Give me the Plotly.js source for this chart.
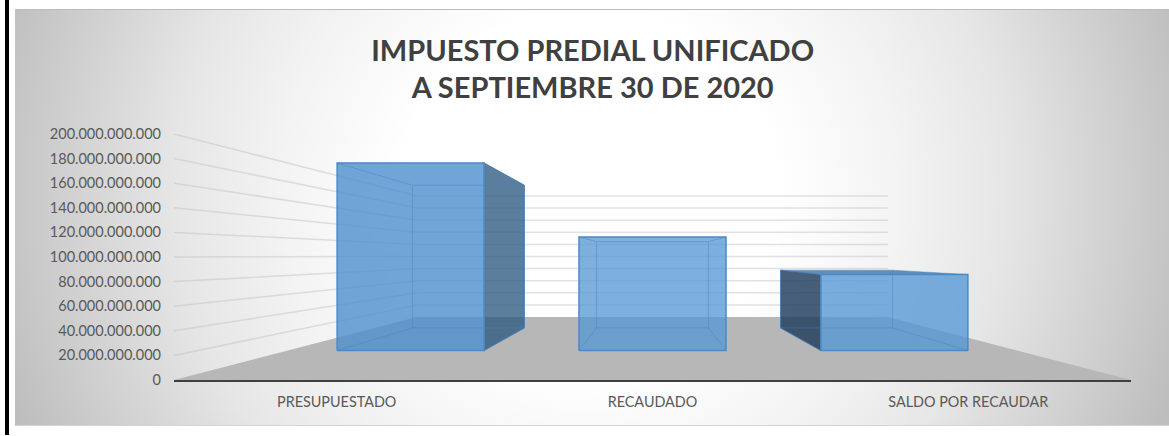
<!DOCTYPE html>
<html><head><meta charset="utf-8">
<script src="https://cdn.plot.ly/plotly-3.0.1.min.js"></script>
<style>
html,body{margin:0;padding:0;background:#fff;width:1169px;height:436px;overflow:hidden}
#frame{position:absolute;left:5px;top:0;width:4px;height:435px;background:#000}
#panel{position:absolute;left:15px;top:9px;width:1154px;height:417px;box-sizing:border-box;border-top:1px solid #bcbcbc;border-bottom:1px solid #d4d4d4;
background:radial-gradient(ellipse 620px 600px at 575px 181px,#fff 0%,#fff 30%,#f3f3f3 50%,#e6e6e6 67%,#d0d0d0 85%,#bdbdbd 100%)}
#chart{position:absolute;left:0;top:0;width:1169px;height:436px}
</style></head><body>
<div id="frame"></div><div id="panel"></div><div id="chart"></div>
<script>
var categories=["PRESUPUESTADO","RECAUDADO","SALDO POR RECAUDAR"];
var values=[200e9,121e9,81e9];
var tickValues=[0,20e9,40e9,60e9,80e9,100e9,120e9,140e9,160e9,180e9,200e9];
var tickLabels=["0","20.000.000.000","40.000.000.000","60.000.000.000","80.000.000.000","100.000.000.000","120.000.000.000","140.000.000.000","160.000.000.000","180.000.000.000","200.000.000.000"];

// Perspective of the 3-D plot box, expressed in axis units.
var vanishX=1, vanishY=100.8e9, sFront=0.762, sBack=0.58, sWall=0.492;
var halfBar=0.3024, barSpread=0.995, labelSpread=0.99, xMin=-0.5, xMax=2.5;
function px(x,s){return vanishX+(x-vanishX)*s;}
function py(v,s){return vanishY+(v-vanishY)*s;}
function poly(pts,fill,line,lw){
  return {type:"scatter",mode:line?"lines":"none",x:pts.map(function(p){return px(p[0],p[2]);}),
    y:pts.map(function(p){return py(p[1],p[2]);}),
    fill:fill?"toself":"none",fillcolor:fill||undefined,
    line:{color:line||"rgba(0,0,0,0)",width:lw||1},hoverinfo:"skip",showlegend:false};
}
var traces=[];
// walls' gridlines
tickValues.slice(1).forEach(function(v){
  traces.push(poly([[xMin,v,1],[xMin,v,sWall],[xMax,v,sWall]],null,"rgba(190,190,190,0.45)",1.5));
});
// floor
traces.push(poly([[xMin,0,1],[xMax,0,1],[xMax,0,sWall],[xMin,0,sWall],[xMin,0,1]],"#b7b7b7"));

var frontFill=["rgba(78,142,206,0.80)","rgba(85,151,213,0.76)","rgba(85,151,213,0.78)"];
var edge="#4a8ac6", inner="rgba(70,130,190,0.45)";
categories.forEach(function(c,i){
  var mid=vanishX+(i-vanishX)*barSpread;
  var l=mid-halfBar,r=mid+halfBar,v=values[i];
  // dark side faces, visible outside the front face
  if(i===0) traces.push(poly([[r,0,sFront],[r,0,sBack],[r,v,sBack],[r,v,sFront],[r,0,sFront]],"rgba(45,90,130,0.78)","rgba(70,120,165,0.8)",1));
  if(i===2) traces.push(poly([[l,0,sFront],[l,0,sBack],[l,v,sBack],[l,v,sFront],[l,0,sFront]],"rgba(30,60,90,0.82)","rgba(60,100,140,0.8)",1));
  if(v<vanishY) traces.push(poly([[l,v,sFront],[r,v,sFront],[r,v,sBack],[l,v,sBack],[l,v,sFront]],"rgba(70,125,175,0.85)"));
  // front face
  traces.push(poly([[l,0,sFront],[r,0,sFront],[r,v,sFront],[l,v,sFront],[l,0,sFront]],frontFill[i],edge,1.5));
  // back edges seen through the glass
  traces.push(poly([[l,v,sBack],[r,v,sBack],[r,0,sBack],[l,0,sBack],[l,v,sBack]],null,inner,1));
  [[l,v],[r,v],[r,0],[l,0]].forEach(function(k){
    traces.push(poly([[k[0],k[1],sFront],[k[0],k[1],sBack]],null,inner,1));
  });
});
var labelPositions=categories.map(function(c,i){return vanishX+(i-vanishX)*labelSpread;});
var layout={
  width:1169,height:436,
  paper_bgcolor:"rgba(0,0,0,0)",plot_bgcolor:"rgba(0,0,0,0)",
  margin:{l:174,r:38,t:134,b:56,pad:0},
  showlegend:false,
  title:{text:"IMPUESTO PREDIAL UNIFICADO<br>A SEPTIEMBRE 30 DE 2020",font:{family:"Lato",size:29,color:"#404040",weight:700},x:0.507,xanchor:"center",y:0.861,yanchor:"middle"},
  xaxis:{range:[xMin,xMax],tickvals:labelPositions,ticktext:categories,showgrid:false,zeroline:false,showline:true,linecolor:"#404040",linewidth:2,ticks:"",
    tickfont:{family:"Lato",size:14.4,color:"#595959"},ticklabelstandoff:8,fixedrange:true},
  yaxis:{range:[0,200e9],tickvals:tickValues,ticktext:tickLabels,showgrid:false,zeroline:false,showline:false,ticks:"",
    tickfont:{family:"Lato",size:14.5,color:"#595959"},ticklabelstandoff:12,fixedrange:true}
};
Plotly.newPlot("chart",traces,layout,{displayModeBar:false,staticPlot:true});
</script></body></html>
